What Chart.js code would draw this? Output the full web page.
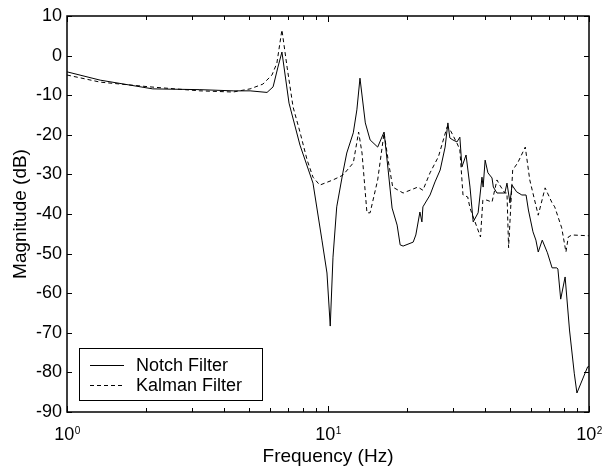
<!DOCTYPE html>
<html>
<head>
<meta charset="utf-8">
<script src="https://cdn.jsdelivr.net/npm/chart.js@4.4.0/dist/chart.umd.min.js"></script>
<style>
  html, body { margin: 0; padding: 0; background: #fff; }
  #wrap { width: 603px; height: 468px; }
</style>
</head>
<body>
<div id="wrap"><canvas id="bode"></canvas></div>
<script>
// notch filter response
const notchFreq = [1.00, 1.34, 2.13, 3.23, 4.33, 5.03, 5.84, 6.16, 6.43, 6.66, 7.09, 7.81, 8.76, 9.48, 9.91, 10.2,
  10.45, 10.8, 11.4, 11.8, 12.5, 12.9, 13.26, 13.9, 14.5, 15.5, 16.4, 17.0, 17.6, 18.4, 18.9, 19.4, 21.2, 21.7,
  22.5, 22.9, 23.1, 24.6, 25.7, 26.9, 28.1, 28.8, 29.3, 30.1, 31.2, 32.0, 32.6, 33.8, 35.0, 36.0, 37.6, 38.9,
  39.3, 40.0, 41.0, 42.5, 43.0, 44.4, 47.6, 48.5, 49.8, 50.7, 52.8, 55.3, 57.4, 58.6, 61.0, 62.6, 63.9, 66.2,
  69.3, 72.2, 75.3, 76.0, 77.9, 81.0, 84.2, 87.8, 89.9, 98.8, 100];
const notchMag = [-4.1, -6.2, -8.4, -8.6, -8.9, -8.9, -9.3, -7.9, -2.9, 0.9, -12.0, -22.6, -32.2, -46.6, -54.9, -68.3,
  -50.9, -38.2, -29.6, -24.6, -19.5, -13.7, -5.7, -17.0, -21.3, -23.1, -19.3, -28.9, -38.5, -42.8, -47.8, -48.1, -47.1, -45.3,
  -39.5, -42.0, -38.2, -35.2, -31.9, -28.9, -23.1, -17.0, -20.8, -21.3, -21.8, -20.6, -28.1, -25.1, -33.2, -42.0, -39.7, -30.7,
  -33.2, -26.4, -29.6, -30.9, -33.2, -34.7, -34.7, -32.2, -37.2, -32.7, -34.4, -35.2, -35.2, -39.0, -44.5, -46.6, -49.6, -46.6,
  -49.8, -53.6, -53.6, -53.9, -61.5, -55.9, -69.3, -80.2, -85.2, -78.6, -78.5];

// kalman filter response
const kalmanFreq = [1.00, 1.34, 2.08, 3.23, 4.33, 5.03, 5.63, 6.10, 6.37, 6.66, 6.97, 7.35, 7.81, 8.32, 8.76, 9.30,
  10.45, 11.4, 12.5, 13.1, 13.5, 14.1, 14.5, 15.5, 16.4, 17.0, 17.7, 19.4, 22.1, 23.1, 24.6, 26.5, 28.6, 29.5,
  31.2, 32.0, 32.9, 34.3, 35.0, 38.4, 39.2, 40.6, 42.5, 44.4, 45.5, 47.6, 48.5, 49.2, 51.0, 53.3, 57.0, 59.3,
  63.9, 67.9, 72.2, 73.9, 78.6, 81.6, 83.3, 86.0, 100];
const kalmanMag = [-4.9, -6.7, -7.9, -8.9, -9.2, -8.4, -7.2, -4.9, -1.9, 6.5, -2.9, -13.0, -19.3, -26.4, -30.7, -32.7,
  -31.4, -30.2, -27.1, -19.3, -24.6, -39.7, -39.7, -31.4, -19.5, -26.4, -33.2, -34.7, -33.2, -34.0, -29.6, -25.5, -18.0, -19.0,
  -22.1, -23.8, -35.2, -35.7, -38.5, -45.8, -36.5, -36.5, -37.0, -31.4, -32.7, -34.7, -34.7, -48.5, -28.9, -27.1, -23.1, -31.4,
  -40.3, -33.4, -37.2, -38.2, -43.5, -49.6, -45.8, -45.3, -45.5];

const seriesNames = ["Notch Filter", "Kalman Filter"];
const yTicks = [10, 0, -10, -20, -30, -40, -50, -60, -70, -80, -90];
const xMajor = [1, 10, 100];
const xExpLabels = ["0", "1", "2"];
const xMinor = [2, 3, 4, 5, 6, 7, 8, 9, 20, 30, 40, 50, 60, 70, 80, 90];

const FONT = '"Liberation Sans", Arial, sans-serif';

function pairs(xs, ys) {
  return xs.map((x, i) => ({ x: x, y: ys[i] }));
}

// box, inward ticks, x labels with exponents, legend
const framePlugin = {
  id: "frame",
  afterDraw(chart) {
    const { ctx, chartArea: a, scales } = chart;
    const x = scales.x, y = scales.y;
    ctx.save();
    ctx.strokeStyle = "#000";
    ctx.lineWidth = 1;
    ctx.beginPath();
    yTicks.forEach(v => {
      const py = Math.round(y.getPixelForValue(v)) + 0.5;
      ctx.moveTo(a.left, py); ctx.lineTo(a.left + 5, py);
      ctx.moveTo(a.right, py); ctx.lineTo(a.right - 5, py);
    });
    xMajor.concat(xMinor).forEach(v => {
      const len = xMajor.includes(v) ? 6 : 4;
      const px = Math.round(x.getPixelForValue(v)) + 0.5;
      ctx.moveTo(px, a.bottom); ctx.lineTo(px, a.bottom - len);
      ctx.moveTo(px, a.top); ctx.lineTo(px, a.top + len);
    });
    ctx.stroke();

    ctx.lineWidth = 1.5;
    ctx.strokeRect(a.left, a.top, a.right - a.left, a.bottom - a.top);

    // x tick labels 10^n
    ctx.fillStyle = "#000";
    ctx.textBaseline = "alphabetic";
    xMajor.forEach((v, i) => {
      const px = x.getPixelForValue(v);
      ctx.font = "18px " + FONT;
      const w1 = ctx.measureText("10").width;
      ctx.font = "10px " + FONT;
      const w2 = ctx.measureText(xExpLabels[i]).width;
      const start = px - (w1 + w2) / 2;
      ctx.font = "18px " + FONT;
      ctx.textAlign = "left";
      ctx.fillText("10", start, a.bottom + 28);
      ctx.font = "10px " + FONT;
      ctx.fillText(xExpLabels[i], start + w1 + 0.5, a.bottom + 22);
    });

    // legend
    const lx = 79, ly = 348, lw = 183, lh = 52;
    ctx.fillStyle = "#fff";
    ctx.fillRect(lx, ly, lw, lh);
    ctx.lineWidth = 1;
    ctx.strokeRect(lx + 0.5, ly + 0.5, lw, lh);
    ctx.font = "18px " + FONT;
    ctx.textAlign = "left";
    ctx.textBaseline = "middle";
    chart.data.datasets.forEach((ds, i) => {
      const yy = ly + 17 + i * 20;
      ctx.beginPath();
      ctx.setLineDash(ds.borderDash || []);
      ctx.lineWidth = ds.borderWidth;
      ctx.moveTo(lx + 11, yy + 0.5);
      ctx.lineTo(lx + 45, yy + 0.5);
      ctx.stroke();
      ctx.setLineDash([]);
      ctx.fillStyle = "#000";
      ctx.fillText(seriesNames[i], lx + 57, yy + 1);
    });
    ctx.restore();
  }
};

const ctx = document.getElementById("bode").getContext("2d");
const chart = new Chart(ctx, {
  type: "line",
  data: {
    datasets: [{
      label: seriesNames[0],
      data: pairs(notchFreq, notchMag),
      borderColor: "#000",
      borderWidth: 1,
      pointRadius: 0,
      tension: 0,
      fill: false
    }, {
      label: seriesNames[1],
      data: pairs(kalmanFreq, kalmanMag),
      borderColor: "#000",
      borderWidth: 1,
      borderDash: [4, 3],
      pointRadius: 0,
      tension: 0,
      fill: false
    }]
  },
  options: {
    responsive: true,
    maintainAspectRatio: false,
    animation: false,
    layout: { padding: { left: 0, top: 16, right: 14, bottom: 0 } },
    plugins: {
      legend: { display: false },
      tooltip: { enabled: false }
    },
    scales: {
      x: {
        type: "logarithmic",
        min: 1,
        max: 100,
        grid: { display: false },
        border: { display: false },
        ticks: { display: false },
        title: {
          display: true,
          text: "Frequency (Hz)",
          color: "#000",
          font: { family: FONT, size: 19 },
          padding: { top: 0, bottom: 0 }
        },
        afterFit(scale) { scale.height = 56; }
      },
      y: {
        min: -90,
        max: 10,
        grid: { display: false, drawTicks: false },
        border: { display: false },
        ticks: {
          stepSize: 10,
          color: "#000",
          padding: 5,
          font: { family: FONT, size: 18 }
        },
        title: {
          display: true,
          text: "Magnitude (dB)",
          color: "#000",
          font: { family: FONT, size: 19 },
          padding: { top: 9, bottom: 0 }
        },
        afterFit(scale) { scale.width = 67; }
      }
    }
  },
  plugins: [framePlugin]
});
</script>
</body>
</html>
